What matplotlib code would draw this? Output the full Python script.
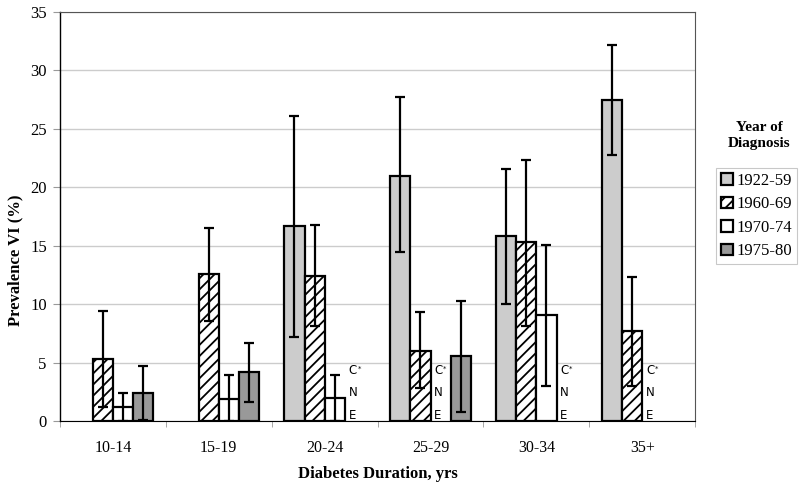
import numpy as np
import matplotlib
matplotlib.use("Agg")
import matplotlib.pyplot as plt

# Dados
duracoes = ["10-14", "15-19", "20-24", "25-29", "30-34", "35+"]
periodos = ["1922-59", "1960-69", "1970-74", "1975-80"]

nan = np.nan
prev_1922 = [nan, nan, 16.7, 21.0, 15.8, 27.5]
prev_1960 = [5.3, 12.6, 12.4, 6.0, 15.3, 7.7]
prev_1970 = [1.2, 1.9, 2.0, nan, 9.1, nan]
prev_1975 = [2.4, 4.2, nan, 5.6, nan, nan]

inf_1922 = [nan, nan, 7.2, 14.5, 10.0, 22.8]
inf_1960 = [1.2, 8.6, 8.1, 2.8, 8.1, 3.0]
inf_1970 = [0.0, 0.0, 0.0, nan, 3.0, nan]
inf_1975 = [0.1, 1.6, nan, 0.8, nan, nan]

sup_1922 = [nan, nan, 26.1, 27.7, 21.6, 32.2]
sup_1960 = [9.4, 16.5, 16.8, 9.3, 22.3, 12.3]
sup_1970 = [2.4, 3.9, 3.9, nan, 15.1, nan]
sup_1975 = [4.7, 6.7, nan, 10.3, nan, nan]

# slots sem dados (C*NE): (duracao, periodo)
sem_dados = [(2, 3), (3, 2), (4, 3), (5, 2)]

valores = [prev_1922, prev_1960, prev_1970, prev_1975]
inferior = [inf_1922, inf_1960, inf_1970, inf_1975]
superior = [sup_1922, sup_1960, sup_1970, sup_1975]
cores = ["#cccccc", "white", "white", "#999999"]
hachuras = [None, "///", None, None]

plt.rcParams["hatch.linewidth"] = 1.3
serif = "Liberation Serif"

fig = plt.figure(figsize=(8, 4.92), dpi=100)
ax = fig.add_axes([0.075, 0.1443, 0.794, 0.8313])

x = np.arange(len(duracoes))
largura = 0.19
for k in range(4):
    pos = x + (k - 1.5) * largura
    v = np.array(valores[k])
    lo = np.array(inferior[k])
    hi = np.array(superior[k])
    ax.bar(pos, v, largura, color=cores[k], edgecolor="black", linewidth=1.6,
           hatch=hachuras[k], label=periodos[k], zorder=2)
    erro = np.vstack([v - lo, hi - v])
    ax.errorbar(pos, v, yerr=erro, fmt="none", ecolor="black", elinewidth=1.6,
                capsize=3.7, capthick=1.6, zorder=3)

# Texto C* N E
for (i, k) in sem_dados:
    xp = x[i] + (k - 1.5) * largura - 0.06
    ax.text(xp, 4.3, "C", fontsize=8.5, family="DejaVu Sans", va="center", ha="left")
    ax.text(xp + 0.085, 4.45, "*", fontsize=5, family="DejaVu Sans", va="center", ha="left")
    ax.text(xp, 2.4, "N", fontsize=8.5, family="DejaVu Sans", va="center", ha="left")
    ax.text(xp, 0.5, "E", fontsize=8.5, family="DejaVu Sans", va="center", ha="left")

ax.set_xlim(-0.5, len(duracoes) - 0.5)
ax.set_ylim(0, 35)
ax.set_yticks(np.arange(0, 36, 5))
ax.set_xticks(x)
ax.set_xticklabels(duracoes, family=serif, fontsize=11.5)
ax.set_xticks(np.arange(-0.5, len(duracoes), 1), minor=True)
ax.tick_params(axis="x", which="major", length=0, pad=14)
ax.tick_params(axis="x", which="minor", length=4, color="#999999")
ax.tick_params(axis="y", length=5, color="#999999", labelsize=12, pad=4.5)
for lab in ax.get_yticklabels():
    lab.set_family(serif)
ax.yaxis.grid(True, color="#cccccc", linewidth=1)
ax.set_axisbelow(True)
for s in ["top", "right"]:
    ax.spines[s].set_color("#555555")
ax.spines["left"].set_linewidth(1)

ax.set_ylabel("Prevalence VI (%)", family=serif, fontweight="bold", fontsize=12)
ax.yaxis.set_label_coords(-0.057, 0.394)
ax.set_xlabel("Diabetes Duration, yrs", family=serif, fontweight="bold", fontsize=12, labelpad=7)

fig.text(0.949, 0.725, "Year of\nDiagnosis", family=serif, fontweight="bold",
         fontsize=11, ha="center", va="center", linespacing=1.3)
leg = ax.legend(loc="upper left", bbox_to_anchor=(0.895, 0.659), bbox_transform=fig.transFigure,
                prop={"family": serif, "size": 12}, frameon=True, fancybox=False,
                edgecolor="#bbbbbb", handlelength=0.7, handleheight=0.7, handletextpad=0.25,
                borderpad=0.3, labelspacing=0.45, borderaxespad=0)
leg.get_frame().set_linewidth(0.8)

fig.savefig("out.png", dpi=100)
